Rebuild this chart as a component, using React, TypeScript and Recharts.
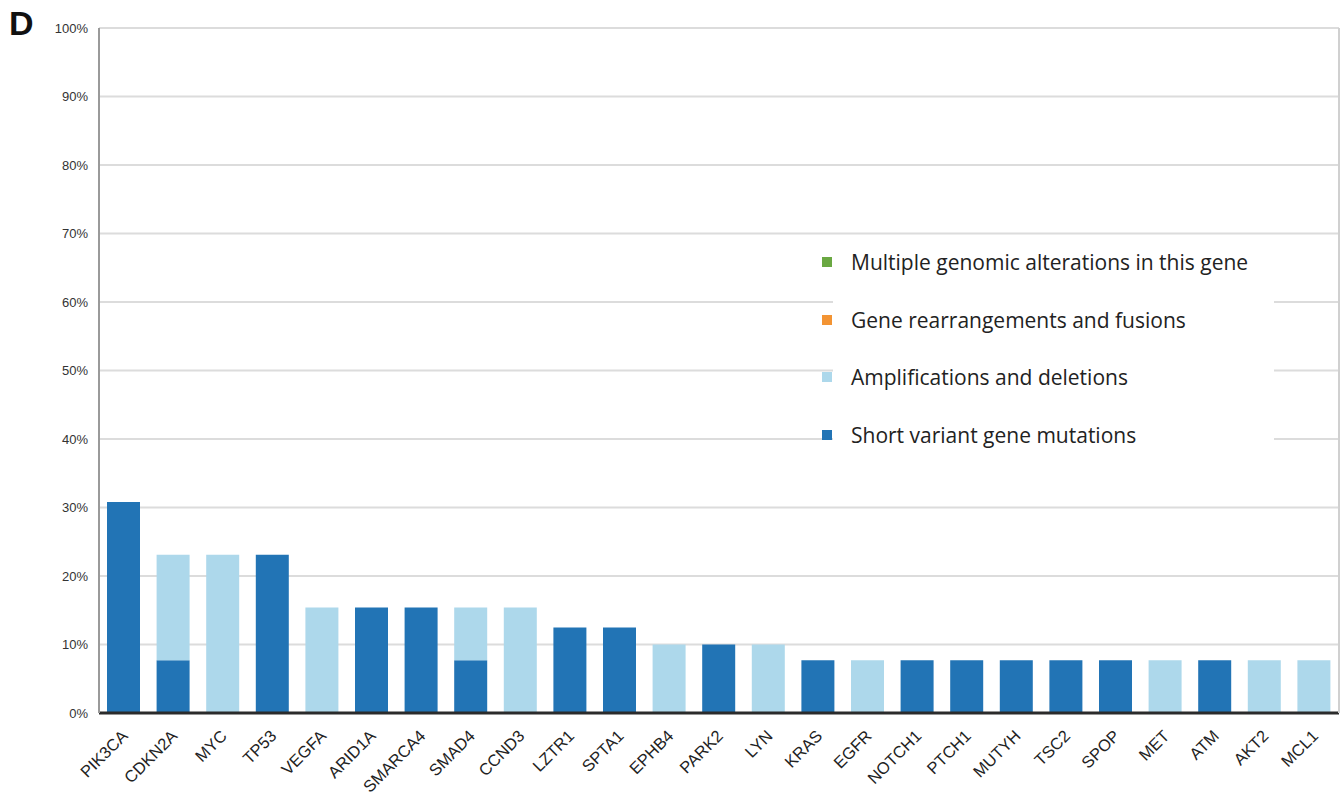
import React from "react";
import { BarChart, Bar, XAxis, YAxis, CartesianGrid } from "recharts";

const genes = [
  "PIK3CA", "CDKN2A", "MYC", "TP53", "VEGFA", "ARID1A", "SMARCA4", "SMAD4", "CCND3",
  "LZTR1", "SPTA1", "EPHB4", "PARK2", "LYN", "KRAS", "EGFR", "NOTCH1", "PTCH1",
  "MUTYH", "TSC2", "SPOP", "MET", "ATM", "AKT2", "MCL1",
];
const shortVariant = [
  30.8, 7.7, 0, 23.1, 0, 15.4, 15.4, 7.7, 0, 12.5, 12.5, 0, 10, 0, 7.7, 0, 7.7, 7.7,
  7.7, 7.7, 7.7, 0, 7.7, 0, 0,
];
const ampDel = [
  0, 15.4, 23.1, 0, 15.4, 0, 0, 7.7, 15.4, 0, 0, 10, 0, 10, 0, 7.7, 0, 0, 0, 0, 0,
  7.7, 0, 7.7, 7.7,
];
const rearrangements = [
  0, 0, 0, 0, 0, 0, 0, 0, 0, 0, 0, 0, 0, 0, 0, 0, 0, 0, 0, 0, 0, 0, 0, 0, 0,
];
const multiple = [
  0, 0, 0, 0, 0, 0, 0, 0, 0, 0, 0, 0, 0, 0, 0, 0, 0, 0, 0, 0, 0, 0, 0, 0, 0,
];
const yTicks = [0, 10, 20, 30, 40, 50, 60, 70, 80, 90, 100];

const legendItems = [
  { label: "Multiple genomic alterations in this gene", color: "#6aa842" },
  { label: "Gene rearrangements and fusions", color: "#f39433" },
  { label: "Amplifications and deletions", color: "#add8eb" },
  { label: "Short variant gene mutations", color: "#2274b5" },
];

const data = genes.map((gene, i) => ({
  gene,
  shortVariant: shortVariant[i],
  ampDel: ampDel[i],
  rearrangements: rearrangements[i],
  multiple: multiple[i],
}));

const FONT = '"Liberation Sans", Arial, sans-serif';

const XTick = (props: any) => {
  const { x, y, payload } = props;
  return (
    <g transform={`translate(${x + 5},${y + 16})`}>
      <text
        x={0}
        y={0}
        textAnchor="end"
        transform="rotate(-45)"
        fontSize={16.5}
        fontFamily={FONT}
        fill="#222"
      >
        {payload.value}
      </text>
    </g>
  );
};

// drawn over the plot, white box hides the gridlines like the original
const LegendBox = () => (
  <div
    style={{
      position: "absolute",
      left: 833,
      top: 238,
      width: 441,
      height: 208,
      background: "#fff",
      fontFamily: '"Open Sans", sans-serif',
      fontSize: 21,
      color: "#222",
    }}
  >
    {legendItems.map((item, i) => (
      <div
        key={item.label}
        style={{
          position: "absolute",
          left: 18,
          top: 24 + i * 57.5 - 15,
          height: 30,
          lineHeight: "30px",
          whiteSpace: "nowrap",
        }}
      >
        <span
          style={{
            position: "absolute",
            left: -29,
            top: 10,
            width: 10,
            height: 10,
            background: item.color,
          }}
        />
        {item.label}
      </div>
    ))}
  </div>
);

export default function App() {
  return (
    <div
      style={{
        position: "absolute",
        left: 0,
        top: 0,
        width: 1344,
        height: 796,
        background: "#fff",
      }}
    >
      <BarChart
        width={1344}
        height={796}
        data={data}
        margin={{ top: 28, right: 0, left: 0, bottom: 0 }}
        barSize={33}
      >
        <CartesianGrid vertical={false} stroke="#dcdcdc" strokeWidth={2} />
        <XAxis
          dataKey="gene"
          height={83}
          interval={0}
          tickLine={false}
          axisLine={{ stroke: "#2b2b2b", strokeWidth: 3 }}
          tick={<XTick />}
        />
        <YAxis
          width={99}
          domain={[0, 100]}
          ticks={yTicks}
          tickFormatter={(v: number) => `${v}%`}
          tickLine={false}
          tickSize={0}
          tickMargin={11}
          axisLine={{ stroke: "#9a9a9a", strokeWidth: 2 }}
          tick={{ fontSize: 13, fontFamily: FONT, fill: "#333" }}
        />
        <YAxis
          yAxisId="right"
          orientation="right"
          width={5}
          tick={false}
          tickLine={false}
          axisLine={{ stroke: "#d0d0d0", strokeWidth: 2 }}
        />
        <Bar dataKey="shortVariant" stackId="a" fill="#2274b5" isAnimationActive={false} />
        <Bar dataKey="ampDel" stackId="a" fill="#add8eb" isAnimationActive={false} />
        <Bar dataKey="rearrangements" stackId="a" fill="#f39433" isAnimationActive={false} />
        <Bar dataKey="multiple" stackId="a" fill="#6aa842" isAnimationActive={false} />
      </BarChart>
      <LegendBox />
      <div
        style={{
          position: "absolute",
          left: 9,
          top: 4,
          fontFamily: FONT,
          fontWeight: "bold",
          fontSize: 34,
          color: "#111",
        }}
      >
        D
      </div>
    </div>
  );
}
